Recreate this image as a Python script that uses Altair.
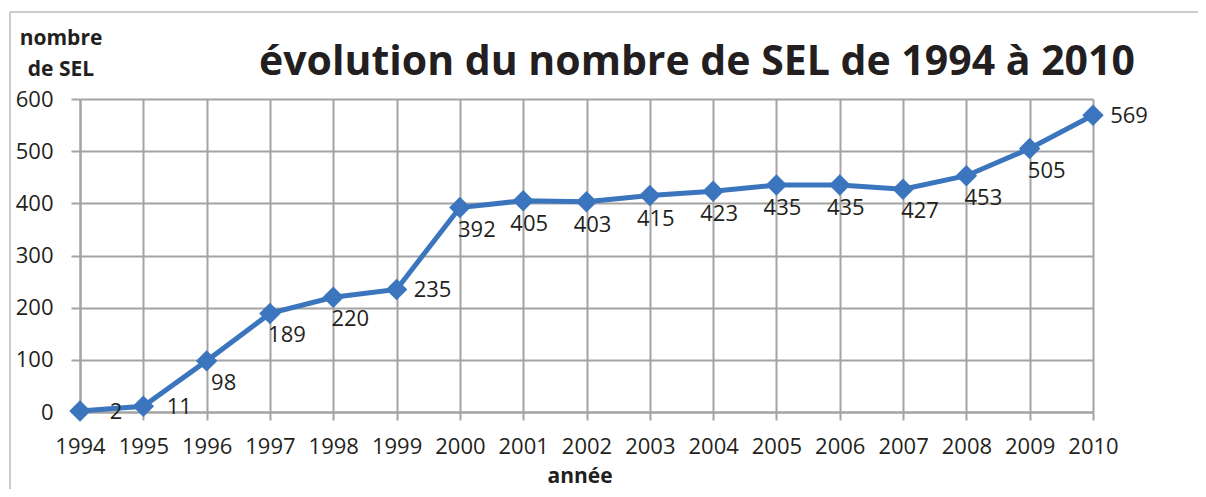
import altair as alt
import pandas as pd

years = [1994, 1995, 1996, 1997, 1998, 1999, 2000, 2001, 2002, 2003,
         2004, 2005, 2006, 2007, 2008, 2009, 2010]
values = [2, 11, 98, 189, 220, 235, 392, 405, 403, 415, 423, 435, 435, 427, 453, 505, 569]
y_ticks = [0, 100, 200, 300, 400, 500, 600]

title_text = "évolution du nombre de SEL de 1994 à 2010"
y_title = ["nombre", "de SEL"]
x_title = "année"

# label placement groups (by year)
right_years = [1994, 1995, 1999, 2010]
below_years = [2001, 2002, 2003, 2004, 2005, 2006]
belowright_years = [1996, 1997, 1998, 2000, 2007, 2008, 2009]

df = pd.DataFrame({"year": years, "value": values})

BLUE = "#3b75bd"
GRID = "#a3a3a3"
TXT = "#231f20"
FONT = "Open Sans"

W, H = 1013, 313

base = alt.Chart(df).encode(
    x=alt.X("year:Q",
            scale=alt.Scale(domain=[1994, 2010], nice=False, zero=False),
            axis=alt.Axis(values=years, format="d", title=None, grid=True,
                          gridColor=GRID, gridWidth=2, domainColor=GRID, domainWidth=2,
                          tickColor=GRID, tickWidth=2, tickSize=8,
                          labelFont=FONT, labelFontSize=22, labelColor=TXT,
                          labelPadding=16, labelFlush=False, labelOverlap=False)),
    y=alt.Y("value:Q",
            scale=alt.Scale(domain=[0, 600], nice=False),
            axis=alt.Axis(values=y_ticks, title=None, grid=True,
                          gridColor=GRID, gridWidth=2, domainColor=GRID, domainWidth=2,
                          tickColor=GRID, tickWidth=2, tickSize=9,
                          labelFont=FONT, labelFontSize=22, labelColor=TXT,
                          labelPadding=18, labelFlush=False, labelOverlap=False)),
)

line = base.mark_line(color=BLUE, strokeWidth=5)
points = base.mark_point(shape="diamond", filled=True, size=460, color=BLUE, opacity=1)


def labels(yrs, dx, dy):
    return base.mark_text(font=FONT, fontSize=22, color=TXT, dx=dx, dy=dy,
                          align="center", baseline="middle").encode(
        text="value:Q").transform_filter(alt.FieldOneOfPredicate(field="year", oneOf=yrs))


lab1 = labels(right_years, 36, 1)
lab2 = labels(below_years, 6, 23)
lab3 = labels(belowright_years, 17, 22)

one = pd.DataFrame({"k": [0]})

title = alt.Chart(one).mark_text(font=FONT, fontSize=41, fontWeight="bold", color=TXT,
                                 align="center", baseline="alphabetic").encode(
    x=alt.value(617), y=alt.value(-24), text=alt.value(title_text))
ytitle = alt.Chart(one).mark_text(font=FONT, fontSize=21, fontWeight="bold", color=TXT,
                                  align="center", baseline="alphabetic", lineHeight=31).encode(
    x=alt.value(-19), y=alt.value(-54), text=alt.value(y_title))
xtitle = alt.Chart(one).mark_text(font=FONT, fontSize=21, fontWeight="bold", color=TXT,
                                  align="center", baseline="alphabetic").encode(
    x=alt.value(500), y=alt.value(384), text=alt.value(x_title))

border_left = alt.Chart(one).mark_rule(color="#9a9a9a", strokeWidth=1).encode(
    x=alt.value(-70), y=alt.value(-87), y2=alt.value(400))
border_top = alt.Chart(one).mark_rule(color="#9a9a9a", strokeWidth=1).encode(
    x=alt.value(-70), x2=alt.value(1130), y=alt.value(-87))

chart = alt.layer(border_left, border_top, line, points, lab1, lab2, lab3,
                  title, ytitle, xtitle).properties(
    width=W, height=H,
    autosize=alt.AutoSizeParams(type="none"),
    padding={"left": 72, "top": 91, "right": 105, "bottom": 77},
    background="white",
).configure_view(strokeWidth=0)

chart.save("out.html", embed_options={"renderer": "svg", "actions": False})
